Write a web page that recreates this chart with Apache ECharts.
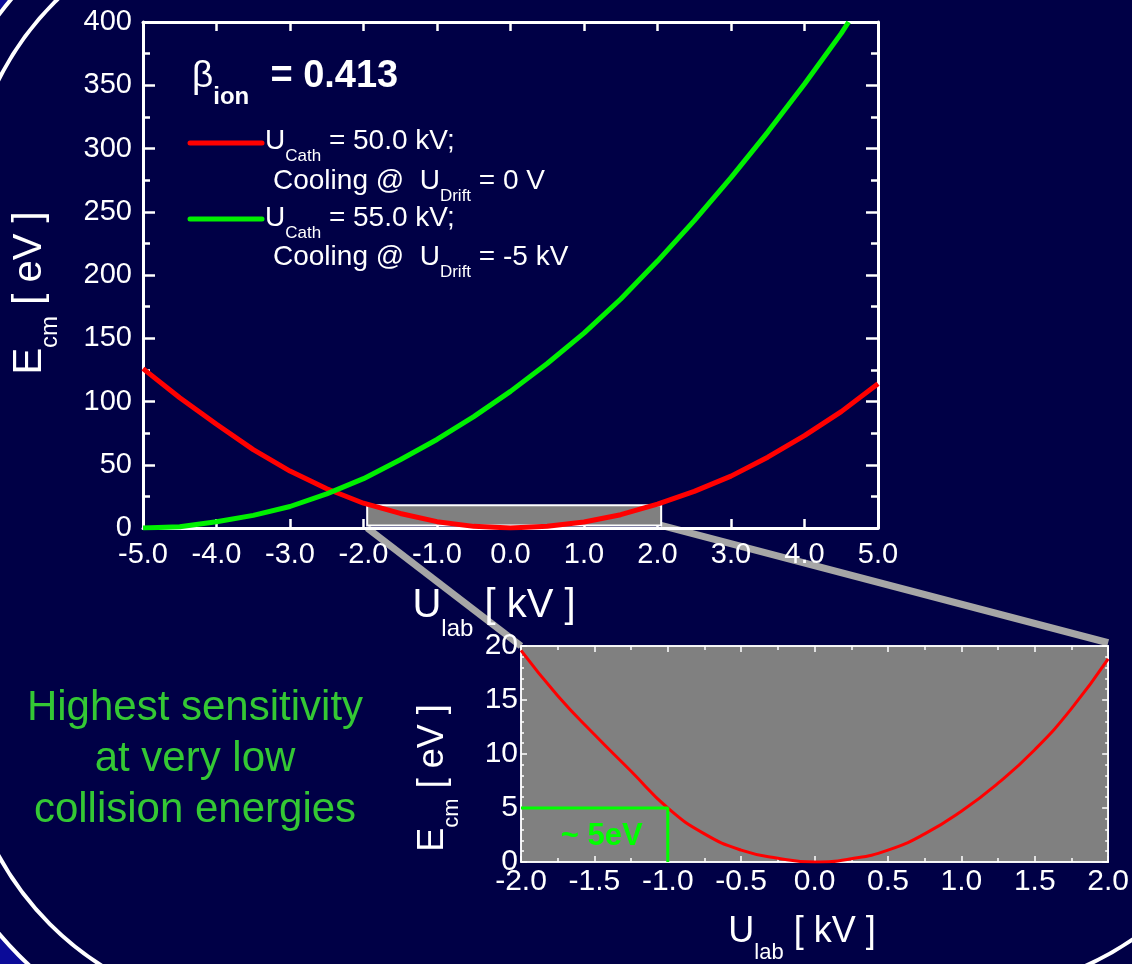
<!DOCTYPE html>
<html>
<head>
<meta charset="utf-8">
<script src="https://cdn.jsdelivr.net/npm/echarts@6/dist/echarts.min.js"></script>
<style>
html, body { margin: 0; padding: 0; background: #000046; }
#chart { width: 1132px; height: 964px; }
</style>
</head>
<body>
<div id="chart"></div>
<script>
// main panel, E_cm [eV] against U_lab [kV]
var uLab = [-5.0, -4.5, -4.0, -3.5, -3.0, -2.5, -2.0, -1.5, -1.0, -0.5, 0.0, 0.5, 1.0, 1.5, 2.0, 2.5, 3.0, 3.5, 4.0, 4.5, 5.0];
var ecmCath50 = [126, 103, 82, 62, 45, 31, 19.6, 11.5, 5.0, 1.3, 0, 1.3, 4.8, 10.5, 18.8, 29, 41, 56, 73, 92, 114];
var uLabCath55 = [-5.0, -4.5, -4.0, -3.5, -3.0, -2.5, -2.0, -1.5, -1.0, -0.5, 0.0, 0.5, 1.0, 1.5, 2.0, 2.5, 3.0, 3.5, 4.0, 4.5, 4.6];
var ecmCath55 = [0, 1, 5, 10, 17, 27, 39, 54, 70, 88, 108, 130, 154, 181, 211, 243, 277, 313, 351, 391, 400];
// zoomed panel
var uZoom = [-2.0, -1.75, -1.5, -1.25, -1.0, -0.75, -0.5, -0.25, 0.0, 0.25, 0.5, 0.75, 1.0, 1.25, 1.5, 1.75, 2.0];
var ecmZoom = [19.6, 15.4, 11.8, 8.4, 5.0, 2.6, 1.1, 0.35, 0, 0.3, 1.1, 2.6, 4.7, 7.3, 10.4, 14.2, 18.8];
var guideU = [-2.0, -1.0, -1.0];
var guideE = [5, 5, 0];
// zoom window drawn on the main panel
var zoomBox = [[-1.95, 2], [2.05, 18]];

var FONT = '"Liberation Sans", Arial, Helvetica, sans-serif';
var WHITE = '#ffffff';

function pairs(xs, ys) {
  return xs.map(function (x, i) { return [x, ys[i]]; });
}
function fmt1(v) { return v.toFixed(1); }

function valueAxis(o) {
  return {
    type: 'value',
    gridIndex: o.grid,
    position: o.pos,
    min: o.min, max: o.max, interval: o.interval,
    axisLine: { show: true, onZero: false, lineStyle: { color: WHITE, width: o.lw } },
    axisTick: { show: true, inside: true, length: o.tick, lineStyle: { color: WHITE, width: o.tw } },
    minorTick: { show: !!o.minor, splitNumber: o.minor || 5, length: o.minorLen || 4, lineStyle: { color: WHITE, width: o.tw } },
    splitLine: { show: false },
    axisLabel: {
      show: !!o.label, color: WHITE, fontFamily: FONT, fontSize: o.fs || 28,
      margin: o.margin || 8, formatter: o.fmt
    }
  };
}

function sub(size, pad, bold) {
  return { fontSize: size, fontFamily: FONT, fontWeight: bold ? 'bold' : 'normal', fill: WHITE, padding: [pad, 0, 0, 0] };
}
function norm(size, bold, color) {
  return { fontSize: size, fontFamily: FONT, fontWeight: bold ? 'bold' : 'normal', fill: color || WHITE };
}
function txt(x, y, text, rich, opts) {
  opts = opts || {};
  return {
    type: 'text', x: x, y: y, rotation: opts.rot || 0, z: 50,
    style: {
      text: text, rich: rich, fill: opts.fill || WHITE,
      align: opts.align || 'left', textAlign: opts.align || 'left',
      verticalAlign: 'middle', textVerticalAlign: 'middle',
      fontFamily: FONT, fontSize: opts.fs || 25, fontWeight: opts.fw || 'normal',
      lineHeight: opts.lh
    }
  };
}

function cornerFill(cx, cy, r, corner) {
  var pts = [], i, a0, a1, n = 24;
  if (corner === 'bl') {
    a0 = Math.atan2(Math.sqrt(r * r - cx * cx), -cx);
    a1 = Math.atan2(964 - cy, -Math.sqrt(r * r - (964 - cy) * (964 - cy)));
  } else {
    a0 = Math.atan2(-cy, -Math.sqrt(r * r - cy * cy));
    a1 = Math.atan2(-Math.sqrt(r * r - cx * cx), -cx);
  }
  for (i = 0; i <= n; i++) {
    var a = a0 + (a1 - a0) * i / n;
    pts.push([cx + r * Math.cos(a), cy + r * Math.sin(a)]);
  }
  pts.push(corner === 'bl' ? [0, 964] : [0, 0]);
  return { type: 'polygon', z: -20, shape: { points: pts }, style: { fill: '#0b0b98' } };
}
function frameArc(cx, cy, r, a0, a1) {
  return { type: 'arc', z: -10, shape: { cx: cx, cy: cy, r: r, startAngle: a0, endAngle: a1, clockwise: true },
    style: { stroke: WHITE, lineWidth: 4, fill: null } };
}

var chart = echarts.init(document.getElementById('chart'), null, { renderer: 'canvas' });

function buildOption(extra) {
  var legendRich = { n: norm(28), s: sub(17, 30) };
  var graphics = [
    cornerFill(262, 712, 344, 'bl'),
    cornerFill(267, 214, 334, 'tl'),
    frameArc(267, 214, 300, Math.PI, Math.PI * 1.5),
    frameArc(262, 712, 300, Math.PI / 2, Math.PI),
    frameArc(963, 692, 300, 0, Math.PI / 2),
    frameArc(267, 214, 334, Math.PI, Math.PI * 1.5),
    frameArc(262, 712, 344, Math.PI / 2, Math.PI),

    // axis titles, main panel
    txt(30, 293, '{n|E}{s|cm}{n| [ eV ]}', { n: norm(40), s: sub(24, 40) }, { rot: Math.PI / 2, align: 'center' }),
    txt(494, 606, '{n|U}{s|lab}{n| [ kV ]}', { n: norm(40), s: sub(24, 46) }, { align: 'center' }),
    // axis titles, zoomed panel
    txt(433, 778, '{n|E}{s|cm}{n| [ eV ]}', { n: norm(36), s: sub(22, 38) }, { rot: Math.PI / 2, align: 'center' }),
    txt(802, 932, '{n|U}{s|lab}{n| [ kV ]}', { n: norm(36), s: sub(22, 42) }, { align: 'center' }),

    // beta label
    txt(192, 77, '{b|\u03b2}{s|ion}{v|  = 0.413}', { b: norm(37), s: sub(24, 40, true), v: norm(38, true) }, {}),

    // legend
    { type: 'line', z: 50, shape: { x1: 190, y1: 143, x2: 262, y2: 143 }, style: { stroke: '#ff0000', lineWidth: 5, lineCap: 'round' } },
    { type: 'line', z: 50, shape: { x1: 190, y1: 219, x2: 262, y2: 219 }, style: { stroke: '#00f000', lineWidth: 5, lineCap: 'round' } },
    txt(265, 141, '{n|U}{s|Cath}{n| = 50.0 kV;}', legendRich, {}),
    txt(273, 181, '{n|Cooling @  U}{s|Drift}{n| = 0 V}', legendRich, {}),
    txt(265, 218, '{n|U}{s|Cath}{n| = 55.0 kV;}', legendRich, {}),
    txt(273, 257, '{n|Cooling @  U}{s|Drift}{n| = -5 kV}', legendRich, {}),

    // note on the left
    txt(195, 759, 'Highest sensitivity\nat very low\ncollision energies', null,
      { align: 'center', fill: '#34c834', fs: 42, lh: 51 })
  ];
  if (extra) graphics = graphics.concat(extra);

  return {
    backgroundColor: '#000046',
    animation: false,
    textStyle: { fontFamily: FONT },
    grid: [
      { left: 143, top: 22, width: 735, height: 506, containLabel: false },
      { left: 521, top: 646, width: 588, height: 216, containLabel: false, show: true,
        backgroundColor: '#808080', borderColor: WHITE, borderWidth: 1.5 }
    ],
    xAxis: [
      valueAxis({ grid: 0, pos: 'bottom', min: -5, max: 5, interval: 1, lw: 3, tick: 9, tw: 2.5, label: true, fs: 29, margin: 12, fmt: fmt1 }),
      valueAxis({ grid: 0, pos: 'top', min: -5, max: 5, interval: 1, lw: 3, tick: 9, tw: 2.5 }),
      valueAxis({ grid: 1, pos: 'bottom', min: -2, max: 2, interval: 0.5, lw: 1.5, tick: 6, tw: 1.5, minor: 2, minorLen: 4, label: true, fs: 30, margin: 5, fmt: fmt1 }),
      valueAxis({ grid: 1, pos: 'top', min: -2, max: 2, interval: 0.5, lw: 1.5, tick: 6, tw: 1.5, minor: 2, minorLen: 4 })
    ],
    yAxis: [
      valueAxis({ grid: 0, pos: 'left', min: 0, max: 400, interval: 50, lw: 3, tick: 12, tw: 2.5, minor: 2, minorLen: 7, label: true, fs: 29, margin: 11 }),
      valueAxis({ grid: 0, pos: 'right', min: 0, max: 400, interval: 50, lw: 3, tick: 12, tw: 2.5, minor: 2, minorLen: 7 }),
      valueAxis({ grid: 1, pos: 'left', min: 0, max: 20, interval: 5, lw: 1.5, tick: 6, tw: 1.5, minor: 5, minorLen: 3, label: true, fs: 30, margin: 3 }),
      valueAxis({ grid: 1, pos: 'right', min: 0, max: 20, interval: 5, lw: 1.5, tick: 6, tw: 1.5, minor: 5, minorLen: 3 })
    ],
    series: [
      {
        name: 'U_Cath = 50.0 kV', type: 'line', xAxisIndex: 0, yAxisIndex: 0,
        data: pairs(uLab, ecmCath50), showSymbol: false, smooth: false, z: 5,
        lineStyle: { color: '#ff0000', width: 5 },
        markArea: {
          silent: true,
          itemStyle: { color: '#808080', borderColor: WHITE, borderWidth: 2 },
          data: [[{ xAxis: zoomBox[0][0], yAxis: zoomBox[0][1] }, { xAxis: zoomBox[1][0], yAxis: zoomBox[1][1] }]]
        }
      },
      {
        name: 'U_Cath = 55.0 kV', type: 'line', xAxisIndex: 0, yAxisIndex: 0,
        data: pairs(uLabCath55, ecmCath55), showSymbol: false, z: 5,
        lineStyle: { color: '#00f000', width: 5 }
      },
      {
        name: 'zoom', type: 'line', xAxisIndex: 2, yAxisIndex: 2,
        data: pairs(uZoom, ecmZoom), showSymbol: false, smooth: true, z: 5,
        lineStyle: { color: '#ff0000', width: 3 }
      },
      {
        name: 'guide', type: 'line', xAxisIndex: 2, yAxisIndex: 2,
        data: pairs(guideU, guideE), showSymbol: false, z: 6,
        lineStyle: { color: '#00ff00', width: 3 }
      }
    ],
    graphic: { elements: graphics }
  };
}

chart.setOption(buildOption(null));

// connector lines and the inset note, placed through the axes
var g0 = { gridIndex: 0 }, g1 = { gridIndex: 1 };
var a = chart.convertToPixel(g0, [zoomBox[0][0], 0]);
var b = chart.convertToPixel(g1, [-2, 20]);
var c = chart.convertToPixel(g0, [zoomBox[1][0], zoomBox[0][1]]);
var d = chart.convertToPixel(g1, [2, 20.3]);
var n = chart.convertToPixel(g1, [-1.45, 2.4]);
var extra = [
  { type: 'line', z: -1, shape: { x1: a[0], y1: a[1], x2: b[0], y2: b[1] }, style: { stroke: '#a6a6a6', lineWidth: 7 } },
  { type: 'line', z: -1, shape: { x1: c[0], y1: c[1], x2: d[0], y2: d[1] }, style: { stroke: '#a6a6a6', lineWidth: 7 } },
  txt(n[0], n[1], '~ 5eV', null, { align: 'center', fill: '#00ff00', fs: 31, fw: 'bold' })
];
chart.setOption(buildOption(extra), true);
</script>
</body>
</html>
